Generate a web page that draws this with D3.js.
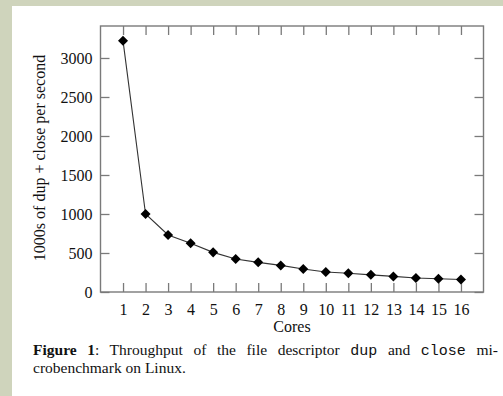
<!DOCTYPE html>
<html>
<head>
<meta charset="utf-8">
<script src="https://cdn.jsdelivr.net/npm/d3@7"></script>
<style>
  html, body { margin: 0; padding: 0; background: #cfd4bc; }
  svg { display: block; }
</style>
</head>
<body>
<script>
// data (thousands of dup + close per second)
const cores = [1, 2, 3, 4, 5, 6, 7, 8, 9, 10, 11, 12, 13, 14, 15, 16];
const throughput = [3220, 1000, 732, 625, 508, 423, 380, 341, 295, 256, 240, 220, 200, 180, 170, 160];
const yTicks = [0, 500, 1000, 1500, 2000, 2500, 3000];

const W = 503, H = 396;
const plotL = 100.5, plotR = 483.5, plotT = 26, plotB = 292;

const svg = d3.select("body").append("svg")
  .attr("width", W)
  .attr("height", H);

// white page
svg.append("rect")
  .attr("x", 12).attr("y", 6)
  .attr("width", W - 12).attr("height", H - 6)
  .attr("fill", "#fff");

const x = d3.scaleLinear().domain([0, 17]).range([plotL, plotR]);
const y = d3.scaleLinear().domain([0, 3410]).range([plotB, plotT]);

const axisColor = "#7a7a7a";
const tickLen = 9;

const g = svg.append("g");

// inner ticks on all four sides
g.append("g")
  .attr("transform", `translate(0,${plotB})`)
  .call(d3.axisBottom(x).tickValues(cores).tickSize(-tickLen).tickPadding(12).tickFormat(d3.format("d")))
  .call(a => a.select(".domain").remove());
g.append("g")
  .attr("transform", `translate(0,${plotT})`)
  .call(d3.axisTop(x).tickValues(cores).tickSize(-tickLen).tickFormat(""))
  .call(a => a.select(".domain").remove());
g.append("g")
  .attr("transform", `translate(${plotL},0)`)
  .call(d3.axisLeft(y).tickValues(yTicks).tickSize(-tickLen).tickPadding(8).tickFormat(d3.format("d")))
  .call(a => a.select(".domain").remove());
g.append("g")
  .attr("transform", `translate(${plotR},0)`)
  .call(d3.axisRight(y).tickValues(yTicks).tickSize(-tickLen).tickFormat(""))
  .call(a => a.select(".domain").remove());

g.selectAll(".tick line").attr("stroke", axisColor).attr("stroke-width", 1.3);
g.selectAll(".tick text")
  .attr("fill", "#111")
  .style("font-family", "'Liberation Serif', 'DejaVu Serif', serif")
  .style("font-size", "16px");

// frame
svg.append("rect")
  .attr("x", plotL).attr("y", plotT)
  .attr("width", plotR - plotL).attr("height", plotB - plotT)
  .attr("fill", "none")
  .attr("stroke", axisColor)
  .attr("stroke-width", 1.4);

// series
const pts = cores.map((c, i) => [c, throughput[i]]);
svg.append("path")
  .datum(pts)
  .attr("fill", "none")
  .attr("stroke", "#333")
  .attr("stroke-width", 1.1)
  .attr("d", d3.line().x(d => x(d[0])).y(d => y(d[1])));

svg.selectAll(".pt")
  .data(pts)
  .enter().append("path")
  .attr("class", "pt")
  .attr("transform", d => `translate(${x(d[0])},${y(d[1])})`)
  .attr("d", d3.symbol().type(d3.symbolDiamond2).size(64))
  .attr("fill", "#000");

// axis titles
const serif = "'Liberation Serif', 'DejaVu Serif', serif";
svg.append("text")
  .attr("x", (plotL + plotR) / 2)
  .attr("y", 332)
  .attr("text-anchor", "middle")
  .style("font-family", serif)
  .style("font-size", "16px")
  .attr("fill", "#111")
  .text("Cores");

svg.append("text")
  .attr("transform", "translate(45,158) rotate(-90)")
  .attr("text-anchor", "middle")
  .style("font-family", serif)
  .style("font-size", "16px")
  .attr("fill", "#111")
  .text("1000s of dup + close per second");

// caption
const mono = "'Liberation Mono', 'DejaVu Sans Mono', monospace";
const capParts = [
  { t: "Figure 1", bold: true },
  { t: ": Throughput of the file descriptor " },
  { t: "dup", mono: true },
  { t: " and " },
  { t: "close", mono: true },
  { t: " mi-" }
];
const cap1 = svg.append("text")
  .attr("x", 33).attr("y", 355)
  .style("font-family", serif)
  .style("font-size", "15.5px")
  .attr("fill", "#111");
capParts.forEach(p => {
  const s = cap1.append("tspan").text(p.t);
  if (p.bold) s.style("font-weight", "bold");
  if (p.mono) s.style("font-family", mono).style("font-size", "15px");
});

// justify first line to the right margin
const natural = cap1.node().getComputedTextLength();
const gaps = capParts.map(p => p.t).join("").split(" ").length - 1;
cap1.attr("word-spacing", Math.max(0, (498 - 33 - natural) / gaps));

svg.append("text")
  .attr("x", 33).attr("y", 373)
  .style("font-family", serif)
  .style("font-size", "15.5px")
  .attr("fill", "#111")
  .text("crobenchmark on Linux.");
</script>
</body>
</html>
